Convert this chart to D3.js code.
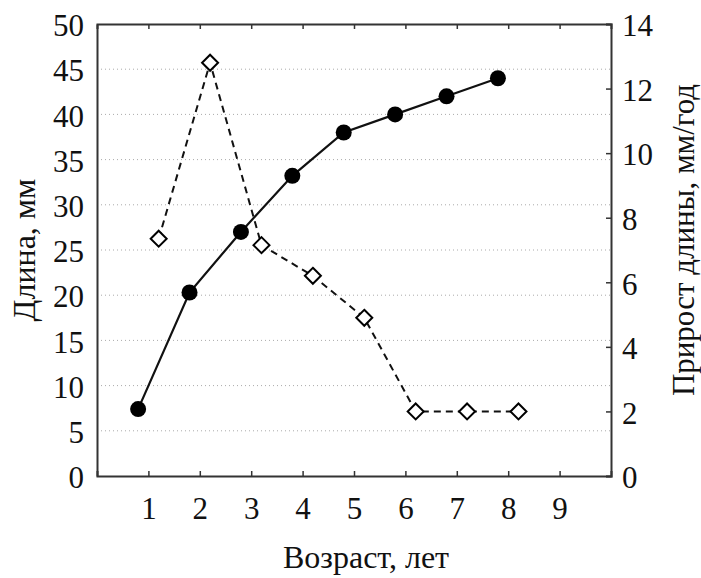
<!DOCTYPE html>
<html>
<head>
<meta charset="utf-8">
<script src="https://cdn.jsdelivr.net/npm/d3@7"></script>
<style>
  body { margin: 0; background: #fff; }
  svg text { font-family: "Liberation Serif", "Times New Roman", "DejaVu Serif", serif; fill: #111; }
</style>
</head>
<body>
<script>
var width = 701,
    height = 578;
var serif = "'Liberation Serif', 'Times New Roman', 'DejaVu Serif', serif";

// данные
var ages = [1, 2, 3, 4, 5, 6, 7, 8];
var lengthMm = [7.4, 20.3, 27, 33.2, 38, 40, 42, 44];
var growthMm = [7.35, 12.8, 7.15, 6.2, 4.9, 2, 2, 2];
var xTicks = [1, 2, 3, 4, 5, 6, 7, 8, 9];
var leftTicks = [0, 5, 10, 15, 20, 25, 30, 35, 40, 45, 50];
var rightTicks = [0, 2, 4, 6, 8, 10, 12, 14];

var margin = {left: 97, right: 90, top: 24, bottom: 102};
var pw = width - margin.left - margin.right,
    ph = height - margin.top - margin.bottom;

var svg = d3.select("body").append("svg")
    .attr("width", width)
    .attr("height", height);

var x = d3.scaleLinear().domain([0, 10]).range([margin.left, margin.left + pw]);
var yL = d3.scaleLinear().domain([0, 50]).range([margin.top + ph, margin.top]);
var yR = d3.scaleLinear().domain([0, 14]).range([margin.top + ph, margin.top]);

// сетка
svg.append("g")
  .selectAll("line")
  .data(leftTicks.filter(function(d) { return d > 0 && d < 50; }))
  .enter().append("line")
    .attr("x1", margin.left).attr("x2", margin.left + pw)
    .attr("y1", function(d) { return yL(d); })
    .attr("y2", function(d) { return yL(d); })
    .style("stroke", "#aaa")
    .style("stroke-width", 1)
    .style("stroke-dasharray", "1,3");

// оси
var axisBottom = d3.axisBottom(x).tickValues(xTicks).tickSize(-5).tickPadding(21);
var axisTop = d3.axisTop(x).tickValues(xTicks).tickSize(-5).tickFormat("");
var axisLeft = d3.axisLeft(yL).tickValues(leftTicks).tickSize(0).tickPadding(13);
var axisRight = d3.axisRight(yR).tickValues(rightTicks).tickSize(-5).tickPadding(11);

function style(g) {
  g.attr("font-family", null);
  g.select(".domain").style("stroke", "#333").style("stroke-width", 2);
  g.selectAll(".tick line").style("stroke", "#333").style("stroke-width", 1.5);
  g.selectAll(".tick text").style("font-size", "31px").style("fill", "#111")
    .style("font-family", serif);
}

svg.append("g").attr("transform", "translate(0," + (margin.top + ph) + ")").call(axisBottom).call(style);
svg.append("g").attr("transform", "translate(0," + margin.top + ")").call(axisTop).call(style);
svg.append("g").attr("transform", "translate(" + margin.left + ",0)").call(axisLeft).call(style)
  .selectAll(".tick text").attr("dy", "0.38em");
svg.append("g").attr("transform", "translate(" + (margin.left + pw) + ",0)").call(axisRight).call(style)
  .selectAll(".tick text").attr("dy", "0.38em");

// прирост (пунктир)
var growthLine = d3.line()
    .x(function(d, i) { return x(ages[i] + 0.2); })
    .y(function(d) { return yR(d); });

svg.append("path")
    .datum(growthMm)
    .attr("d", growthLine)
    .style("fill", "none")
    .style("stroke", "#111")
    .style("stroke-width", 2)
    .style("stroke-dasharray", "7,5");

// длина (сплошная)
var lengthLine = d3.line()
    .x(function(d, i) { return x(ages[i] - 0.2); })
    .y(function(d) { return yL(d); });

svg.append("path")
    .datum(lengthMm)
    .attr("d", lengthLine)
    .style("fill", "none")
    .style("stroke", "#111")
    .style("stroke-width", 2.2);

svg.selectAll(".dot")
    .data(lengthMm)
  .enter().append("circle")
    .attr("class", "dot")
    .attr("cx", function(d, i) { return x(ages[i] - 0.2); })
    .attr("cy", function(d) { return yL(d); })
    .attr("r", 8)
    .style("fill", "#000");

svg.selectAll(".dia")
    .data(growthMm)
  .enter().append("path")
    .attr("class", "dia")
    .attr("d", "M0,-8L8,0L0,8L-8,0Z")
    .attr("transform", function(d, i) { return "translate(" + x(ages[i] + 0.2) + "," + yR(d) + ")"; })
    .style("fill", "#fff")
    .style("stroke", "#000")
    .style("stroke-width", 2);

// подписи осей
svg.append("text")
    .attr("x", 366).attr("y", 568)
    .attr("text-anchor", "middle")
    .style("font-family", serif)
    .style("font-size", "32px")
    .text("Возраст, лет");

svg.append("text")
    .attr("transform", "translate(35,250) rotate(-90)")
    .attr("text-anchor", "middle")
    .style("font-family", serif)
    .style("font-size", "32px")
    .text("Длина, мм");

svg.append("text")
    .attr("transform", "translate(694,240) rotate(-90)")
    .attr("text-anchor", "middle")
    .style("font-family", serif)
    .style("font-size", "31px")
    .text("Прирост длины, мм/год");
</script>
</body>
</html>
